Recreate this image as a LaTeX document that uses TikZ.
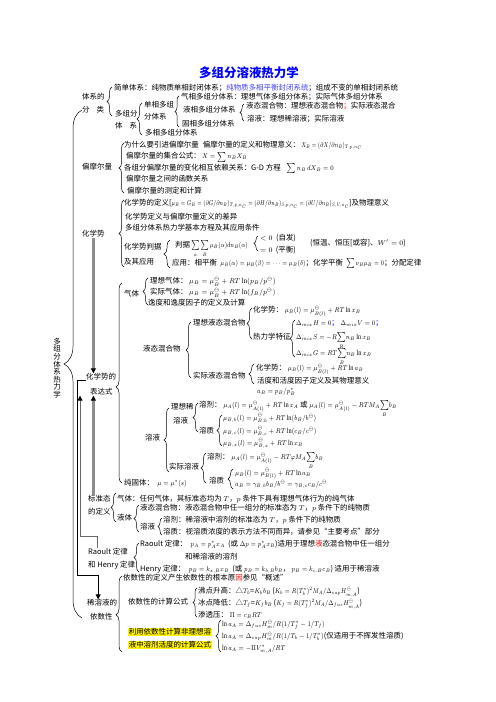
\documentclass[tikz,border=0pt]{standalone}
\usepackage{graphicx}
\usepackage{fontspec}
\setmainfont{Liberation Serif}
\newfontfamily\cjk{Noto Sans CJK SC}
\usetikzlibrary{decorations.pathreplacing,arrows.meta}
\newcommand\lbrc[5]{\draw[brc,decoration={brace,amplitude=#4,aspect=#5}] (#1,#3) -- (#1,#2);}
\newcommand\mm[2][0.85]{\raisebox{0pt}[0.72em][0.18em]{\scalebox{#1}[1]{$#2$}}}
\newcommand\sumB{\smash{\sum\limits_B}}
\begin{document}
\begin{tikzpicture}[x=1bp,y=-1bp,
  t/.style={anchor=west,inner sep=0pt,font=\fontsize{7.5}{9}\selectfont\cjk},
  brc/.style={decorate,line width=0.5pt},
  garr/.style={draw=black!45,line width=2.2pt,-{Triangle[length=5pt,width=5pt,color=black]}},
  rarr/.style={draw=black!60,line width=1pt,-{Triangle[length=5pt,width=5pt,color=black]}},
  barr/.style={draw=black,line width=0.8pt,-{Triangle[length=5pt,width=5pt]}},
  hl/.style={t,fill=yellow,inner sep=0.6pt}]
\useasboundingbox[fill=white] (0,0) rectangle (496,702);

% title
\node[font=\fontsize{12.5}{14}\selectfont\cjk\bfseries,text=blue,inner sep=0pt] (title) at (249,73) {多组分溶液热力学};

% big brace and vertical label
\lbrc{82}{110}{618}{18}{0.5}
\node[inner sep=0pt,align=center,font=\fontsize{7.5}{7.6}\selectfont\cjk] (main) at (57,368) {多\\组\\分\\体\\系\\热\\力\\学};

% ---- 体系的分类
\node[t] (a1) at (82,97) {体系的};
\node[t] (a2) at (82,110) {分\hspace{7bp}类};
\lbrc{112}{87}{116}{5}{0.5}
\node[t] (a3) at (114,88) {简单体系：纯物质单相封闭体系；{\color[RGB]{70,70,255}纯物质多相平衡封闭系统}；组成不变的单相封闭系统};
\node[t] (a4) at (115,114) {多组分};
\node[t] (a5) at (115,126) {体\hspace{7bp}系};
\lbrc{142}{103}{135}{5}{0.5}
\node[t] (a6) at (144,105) {单相多组};
\node[t] (a7) at (144,117) {分体系};
\node[t] (a8) at (145,133) {多相多组分体系};
\lbrc{179}{96}{127}{4}{0.5}
\node[t] (a9) at (181,97) {气相多组分体系：理想气体多组分体系；实际气体多组分体系};
\node[t] (a10) at (183,110) {液相多组分体系};
\node[t] (a11) at (182,124) {固相多组分体系};
\lbrc{244}{104}{121}{4}{0.5}
\node[t] (a12) at (246,106) {液态混合物：理想液态混合物{\color{red}；}实际液态混合};
\node[t] (a13) at (247,119) {溶液：理想稀溶液；实际溶液};

% ---- 偏摩尔量
\node[t] (b0) at (82,167) {偏摩尔量};
\lbrc{124}{143}{193}{5}{0.5}
\node[t] (b1) at (124,144.5) {为什么要引进偏摩尔量\hspace{4bp}偏摩尔量的定义和物理意义：\,\mm[0.72]{X_B=(\partial X/\partial n_B)_{T,p,n_C}}};
\node[t] (b2) at (126,156.5) {偏摩尔量的集合公式：\,\mm{X=\sum n_BX_B}};
\node[t] (b3) at (124,167.5) {各组分偏摩尔量的变化相互依赖关系：G-D 方程\hspace{6bp}\mm{\sum n_B\,dX_B=0}};
\node[t] (b4) at (126,179) {偏摩尔量之间的函数关系};
\node[t] (b5) at (127,191) {偏摩尔量的测定和计算};

% ---- 化学势
\node[t] (hxs) at (82,234) {化学势};
\lbrc{124}{200}{267}{5}{0.5}
\node[t] (c1) at (124,203) {化学势的定义[\mm[0.72]{\mu_B=G_B=(\partial G/\partial n_B)_{T,p,n_C}=(\partial H/\partial n_B)_{S,p,n_C}=(\partial U/\partial n_B)_{S,V,n_C}}]及物理意义};
\node[t] (c2) at (125,217) {化学势定义与偏摩尔量定义的差异};
\node[t] (c3) at (125,228) {多组分体系热力学基本方程及其应用条件};
\node[t] (c4) at (124,247) {化学势判据};
\node[t] (c5) at (124,262) {及其应用};
\lbrc{170}{240}{268}{6}{0.5}
\node[t] (c6) at (175,245) {判据\,\mm[0.78]{\sum\limits_\alpha\sum\limits_B\mu_B(\alpha)dn_B(\alpha)}};
\lbrc{258}{236}{251}{4}{0.5}
\node[t] (c7) at (260,238) {$<0$\ \ (自发)};
\node[t] (c8) at (260,250) {$=0$\ \ (平衡)};
\node[t] (c9) at (310,243) {(恒温、恒压[或容]、$W'=0$)};
\node[t] (c10) at (172,263) {应用：相平衡\ \ \mm[0.8]{\mu_B(\alpha)=\mu_B(\beta)=\cdots=\mu_B(\delta)}；化学平衡\ \ \mm[0.8]{\sum\nu_B\mu_B=0}；分配定律};

% ---- 化学势的表达式
\node[t] (bds1) at (86,377) {化学势的};
\node[t] (bds2) at (90,392) {表达式};
\lbrc{122}{283}{483}{6}{0.48}
\node[t] (d1) at (124,294) {气体};
\lbrc{148}{278}{305}{5}{0.5}
\node[t] (d2) at (150,281) {理想气体：\ \mm[0.95]{\mu_B=\mu_B^\ominus+RT\ln(p_B/p^\ominus)}};
\node[t] (d3) at (150,292) {实际气体：\ \mm[0.95]{\mu_B=\mu_B^\ominus+RT\ln(f_B/p^\ominus)}};
\node[t] (d4) at (148,303) {逸度和逸度因子的定义及计算};
\node[t] (d5) at (143,349) {液态混合物};
\lbrc{191}{322}{378}{5}{0.5}
\node[t] (d6) at (193,323) {理想液态混合物};
\lbrc{252}{308}{339}{5}{0.5}
\node[t] (d7) at (253,310) {化学势：\ \mm{\mu_B(l)=\mu^\ominus_{B(l)}+RT\ln x_B}};
\node[t] (d8) at (253,337) {热力学特征};
\lbrc{295}{320}{357}{5}{0.5}
\node[t] (d9) at (296,323) {\mm{\Delta_{mix}H=0}{\color{blue}；}\ \mm{\Delta_{mix}V=0}{\color{blue}；}};
\node[t] (d10) at (296,337) {\mm{\Delta_{mix}S=-R\sumB n_B\ln x_B}};
\node[t] (d11) at (296,353.5) {\mm{\Delta_{mix}G=RT\sumB n_B\ln x_B}};
\node[t] (d12) at (193,376) {实际液态混合物};
\lbrc{254}{364}{384}{5}{0.5}
\node[t] (d13) at (256,368) {化学势：\ \mm{\mu_B(l)=\mu^\ominus_{B(l)}+RT\ln a_B}};
\node[t] (d14) at (257,381) {活度和活度因子定义及其物理意义};
\node[t] (d15) at (257,391) {\mm{a_B=p_B/p_B^*}};
\node[t] (e0) at (145,438) {溶液};
\lbrc{169}{408}{472}{5}{0.5}
\node[t] (e1) at (171,407) {理想稀};
\node[t] (e2) at (173,421) {溶液};
\lbrc{198}{403}{432}{5}{0.5}
\node[t] (e3) at (199,405) {溶剂：\ \mm{\mu_A(l)=\mu^\ominus_{A(l)}+RT\ln x_A} 或 \mm{\mu_A(l)=\mu^\ominus_{A(l)}-RTM_A\sumB b_B}};
\node[t] (e4) at (199,431) {溶质};
\lbrc{222}{415}{446}{5}{0.5}
\node[t] (e5) at (223,418) {\mm{\mu_{B,b}(l)=\mu^\ominus_{B,b}+RT\ln(b_B/b^\ominus)}};
\node[t] (e6) at (223,431) {\mm{\mu_{B,c}(l)=\mu^\ominus_{B,c}+RT\ln(c_B/c^\ominus)}};
\node[t] (e7) at (223,443) {\mm{\mu_{B,x}(l)=\mu^\ominus_{B,x}+RT\ln x_B}};
\node[t] (e8) at (169,467) {实际溶液};
\lbrc{206}{453}{483}{5}{0.5}
\node[t] (e9) at (207,457) {溶剂：\ \mm{\mu_A(l)=\mu^\ominus_{A(l)}-RT\varphi M_A\sumB b_B}};
\node[t] (e10) at (209,481) {溶质};
\lbrc{233}{469}{489}{5}{0.5}
\node[t] (e11) at (235,473) {\mm{\mu_B(l)=\mu^\ominus_{B(l)}+RT\ln a_B}};
\node[t] (e12) at (235,484) {\mm{a_B=\gamma_{B,b}b_B/b^\ominus=\gamma_{B,c}c_B/c^\ominus}};
\node[t] (e13) at (124,483) {纯固体：\ \ \mm{\mu=\mu^*(s)}};

% ---- 标准态
\node[t] (bzt) at (88,499) {标准态};
\node[t] (bzt2) at (88,512) {的定义};
\lbrc{116}{493}{522}{5}{0.5}
\node[t] (f1) at (117,499) {气体：任何气体，其标准态均为 $T$，$p$\ 条件下具有理想气体行为的纯气体};
\node[t] (f2) at (117,518) {液体};
\lbrc{139}{505}{532}{5}{0.5}
\node[t] (f3) at (140,508) {液态混合物：液态混合物中任一组分的标准态为 $T$，$p$\ 条件下的纯物质};
\node[t] (f4) at (140,527) {溶液};
\lbrc{162}{518}{535}{4}{0.5}
\node[t] (f5) at (163,520) {溶剂：稀溶液中溶剂的标准态为 $T$，$p$\ 条件下的纯物质};
\node[t] (f6) at (163,532) {溶质：视溶质浓度的表示方法不同而异，请参见“主要考点”部分};

% ---- Raoult / Henry
\node[t] (rlt) at (88,552) {Raoult 定律};
\node[t] (rlt2) at (88,565) {和 Henry 定律};
\lbrc{139}{543}{572}{5}{0.5}
\node[t] (g1) at (140,544) {Raoult 定律：\ \ \mm{p_A=p_A^*x_A}\ \ (或 \mm{\Delta p=p_A^*x_B})适用于理想{\color{red}液}态混合物中任一组分};
\node[t] (g2) at (185,557) {和稀溶液的溶剂};
\node[t] (g3) at (140,569) {Henry 定律：\ \ \mm{p_B=k_{x,B}x_B}\ \ (或 \mm{p_B=k_{b,B}b_B}，\,\mm{p_B=k_{c,B}c_B})\ 适用于稀溶液};

% ---- 依数性
\node[t] (xsy1) at (87,603) {稀溶液的};
\node[t] (xsy2) at (90,617) {依数性};
\lbrc{122}{576}{652}{6}{0.49}
\node[t] (h1) at (123,578) {依数性的定义产生依数性的根本原{\color{red}因}参见“概述”};
\node[t] (h2) at (128,602) {依数性的计算公式};
\lbrc{197}{588}{617}{4}{0.5}
\node[t] (h3) at (198,591) {沸点升高：△\mm{T_b}=\mm{K_bb_B}\,(\mm[0.8]{K_b=R(T_b^*)^2M_A/\Delta_{vap}H^\ominus_{m,A}})};
\node[t] (h4) at (198,603) {冰点降低：△\mm{T_f}=\mm{K_fb_B}\,(\mm[0.8]{K_f=R(T_f^*)^2M_A/\Delta_{fus}H^\ominus_{m,A}})};
\node[t] (h5) at (198,615) {渗透压：\ \mm{\Pi=c_BRT}};
\node[hl] (h6) at (128,632) {利用依数性计算非理想溶};
\node[hl] (h7) at (128,645) {液中溶剂活度的计算公式};
\lbrc{221}{620}{652}{5}{0.5}
\node[t] (h8) at (222,624) {\mm{\ln a_A=\Delta_{fus}H^\ominus_m/R(1/T_f^*-1/T_f)}};
\node[t] (h9) at (222,636) {\mm{\ln a_A=\Delta_{vap}H^\ominus_m/R(1/T_b-1/T_b^*)}(仅适用于不挥发性溶质)};
\node[t] (h10) at (222,648) {\mm{\ln a_A=-\Pi V^*_{m,A}/RT}};

% ---- connectors
\draw[garr] (hxs.south) -- (hxs.south |- bds1.north);
\draw[garr] (hxs.south |- bzt.north) -- (hxs.south |- bds2.south);
\draw[rarr] ([xshift=9bp]rlt.north west) -- ++(0,-12) -- ++(-17,0) coordinate (rk) -- (rk |- bds2.south);
\draw[barr] (bds1.south west) -- ++(-9,0) -- ++(0,195) coordinate (bk) -| ([xshift=-4bp]xsy1.north);
\end{tikzpicture}
\end{document}
